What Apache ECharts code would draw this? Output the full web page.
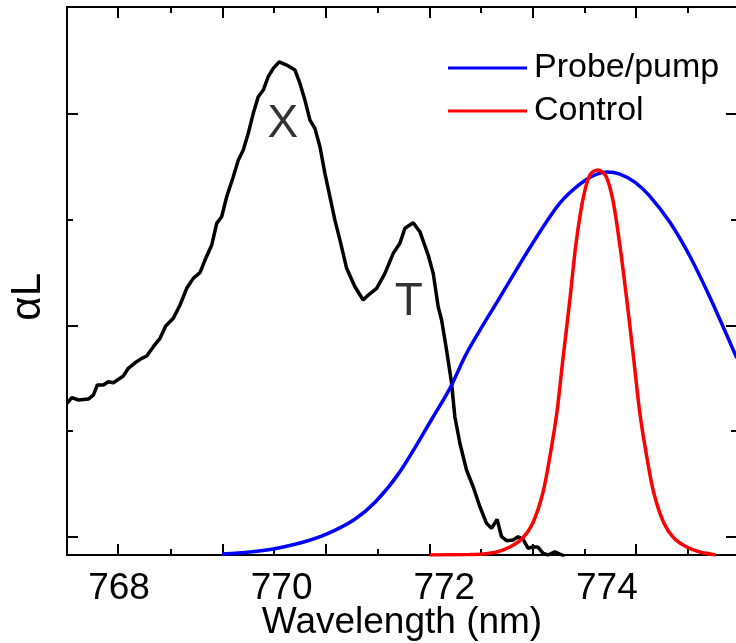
<!DOCTYPE html>
<html>
<head>
<meta charset="utf-8">
<script src="https://cdn.jsdelivr.net/npm/echarts@6/dist/echarts.min.js"></script>
<style>
html,body{margin:0;padding:0;background:#fff;}
#c{width:736px;height:643px;}
</style>
</head>
<body>
<div id="c"></div>
<script>
// ---- data (wavelength in nm, alphaL in arbitrary units) ----
const absX = [767.36,767.419,767.50,767.623,767.684,767.733,767.807,767.868,767.930,768.053,768.114,768.197,768.279,768.340,768.422,768.504,768.574,768.667,768.750,768.832,768.913,768.996,769.057,769.140,769.201,769.262,769.324,769.405,769.467,769.528,769.589,769.651,769.712,769.774,769.835,769.897,769.970,770.061,770.164,770.225,770.286,770.348,770.409,770.471,770.532,770.594,770.655,770.717,770.799,770.901,771.003,771.065,771.168,771.270,771.372,771.454,771.516,771.618,771.700,771.802,771.864,771.925,771.967,772.028,772.090,772.130,772.192,772.274,772.355,772.438,772.520,772.581,772.650,772.704,772.766,772.847,772.908,772.970,773.031,773.093,773.154,773.216,773.277,773.360,773.421,773.483];
const absY = [1.264,1.317,1.295,1.304,1.342,1.437,1.437,1.468,1.458,1.522,1.595,1.647,1.689,1.711,1.799,1.878,1.994,2.067,2.193,2.351,2.445,2.500,2.618,2.760,2.965,3.027,3.216,3.405,3.563,3.658,3.816,4.005,4.162,4.225,4.351,4.430,4.492,4.461,4.414,4.288,4.130,3.941,3.863,3.689,3.438,3.216,2.996,2.807,2.540,2.366,2.240,2.287,2.351,2.492,2.681,2.776,2.918,2.971,2.886,2.665,2.492,2.177,2.051,1.767,1.453,1.137,0.886,0.633,0.475,0.286,0.129,0.082,0.167,0.003,-0.035,-0.028,0.003,-0.022,-0.107,-0.092,-0.097,-0.154,-0.170,-0.139,-0.161,-0.180];

const probeX = [769.266,769.610,769.899,770.225,770.551,770.886,771.152,771.454,771.864,772.069,772.274,772.663,772.929,773.175,773.421,773.667,773.851,773.999,774.159,774.343,774.527,774.773,775.019,775.265,775.597];
const probeY = [-0.161,-0.142,-0.113,-0.057,0.028,0.161,0.331,0.617,1.137,1.405,1.736,2.240,2.580,2.883,3.157,3.336,3.422,3.450,3.431,3.355,3.223,2.977,2.656,2.268,1.692];

const ctrlX = [771.823,772.315,772.475,772.647,772.806,772.966,773.089,773.212,773.298,773.384,773.458,773.544,773.618,773.704,773.790,773.888,773.987,774.073,774.159,774.245,774.331,774.405,774.491,774.577,774.700,774.823,774.982,775.142,775.339];
const ctrlY = [-0.170,-0.166,-0.161,-0.142,-0.095,-0.009,0.132,0.416,0.756,1.172,1.673,2.240,2.760,3.186,3.422,3.469,3.412,3.186,2.760,2.240,1.673,1.172,0.756,0.416,0.132,-0.009,-0.095,-0.142,-0.170];

const seriesNames = ['Probe/pump', 'Control'];
const xLabelValues = [768, 770, 772, 774];
const xMajorTicks = [767.99, 769.272, 770.545, 771.817, 773.089, 774.36];
const xMinorTicks = [768.637, 769.905, 771.18, 772.45, 773.725, 774.994];
const yMajorTicks = [0, 2, 4];
const yMinorTicks = [1, 3];
const peakLabels = [['X', 770.016, 3.90], ['T', 771.565, 2.215]];

const X_MIN = 767.36, X_MAX = 775.6, Y_MIN = -0.17, Y_MAX = 5.01;
const FONT = '"Liberation Sans", Arial, sans-serif';

const zip = (a, b) => a.map((v, i) => [v, b[i]]);
const lineAx = { show: true, onZero: false, lineStyle: { color: '#000', width: 2 } };
function xAx(pos, ticks, len, labels) {
  return {
    type: 'value', position: pos, min: X_MIN, max: X_MAX,
    axisLine: lineAx, splitLine: { show: false },
    axisTick: { show: true, inside: true, length: len, customValues: ticks, lineStyle: { color: '#000', width: 2 } },
    axisLabel: labels ? { show: true, customValues: labels, margin: 15, color: '#000', fontSize: 37, fontFamily: FONT } : { show: false }
  };
}
function yAx(pos, ticks, len) {
  return {
    type: 'value', position: pos, min: Y_MIN, max: Y_MAX,
    axisLine: lineAx, splitLine: { show: false },
    axisTick: { show: true, inside: true, length: len, customValues: ticks, lineStyle: { color: '#000', width: 2 } },
    axisLabel: { show: false }
  };
}

const chart = echarts.init(document.getElementById('c'), null, { renderer: 'canvas' });
const xMain = xAx('bottom', xMajorTicks, 11, xLabelValues);
xMain.name = 'Wavelength (nm)';
xMain.nameLocation = 'middle';
xMain.nameGap = 49;
xMain.nameMoveOverlap = false;
xMain.nameTextStyle = { color: '#000', fontSize: 37, fontFamily: FONT };

chart.setOption({
  animation: false,
  backgroundColor: '#fff',
  grid: { left: 67, top: 7, width: 670, height: 548, containLabel: false, outerBoundsMode: 'none' },
  xAxis: [xMain, xAx('bottom', xMinorTicks, 6), xAx('top', xMajorTicks, 11), xAx('top', xMinorTicks, 6)],
  yAxis: [yAx('left', yMajorTicks, 11), yAx('left', yMinorTicks, 6), yAx('right', yMajorTicks, 11), yAx('right', yMinorTicks, 6)],
  legend: {
    data: seriesNames, orient: 'vertical', left: 448, top: 51, padding: 0, itemGap: 9,
    itemWidth: 79, itemHeight: 3, icon: 'rect',
    textStyle: { color: '#000', fontSize: 34, fontFamily: FONT, padding: [0, 0, 0, 2] }
  },
  graphic: [{
    type: 'text', left: 7, top: 273, rotation: Math.PI / 2,
    style: { text: 'αL', fill: '#000', font: '42px ' + FONT }
  }],
  series: [
    { type: 'line', name: 'absorption', data: zip(absX, absY), showSymbol: false, lineStyle: { color: '#000', width: 3.5 }, clip: true, z: 3 },
    { type: 'line', name: seriesNames[0], data: zip(probeX, probeY), showSymbol: false, smooth: 0.3, lineStyle: { color: '#0000ff', width: 3.5 }, itemStyle: { color: '#0000ff' }, clip: true, z: 4 },
    { type: 'line', name: seriesNames[1], data: zip(ctrlX, ctrlY), showSymbol: false, smooth: 0.3, lineStyle: { color: '#ff0000', width: 3.5 }, itemStyle: { color: '#ff0000' }, clip: true, z: 5 },
    { type: 'scatter', name: 'peaks', data: peakLabels.map(p => ({ name: p[0], value: [p[1], p[2]] })), symbolSize: 0,
      label: { show: true, position: 'inside', formatter: p => p.name, color: '#000', textBorderWidth: 0, fontSize: 46, fontFamily: FONT } }
  ]
});
</script>
</body>
</html>
